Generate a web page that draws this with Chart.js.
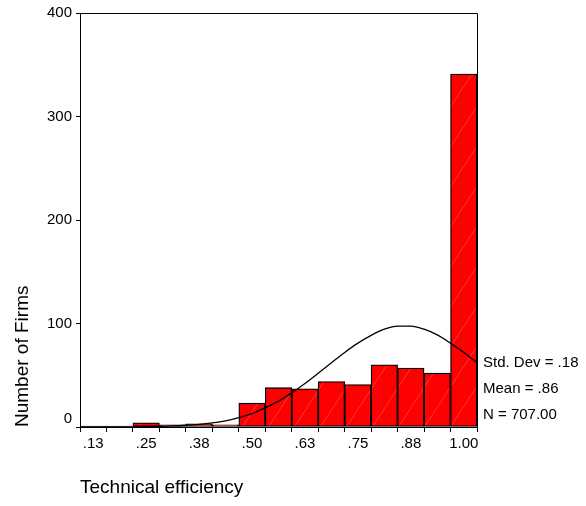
<!DOCTYPE html>
<html>
<head>
<meta charset="utf-8">
<script src="https://cdn.jsdelivr.net/npm/chart.js@4.4.0/dist/chart.umd.min.js"></script>
<style>
  html, body { margin: 0; padding: 0; background: #fff; }
  #wrap { width: 586px; height: 506px; }
</style>
</head>
<body>
<div id="wrap"><canvas id="histo"></canvas></div>
<script>
// Centros de las clases del histograma (ancho 0.0625)
const binCenters = [0.125, 0.1875, 0.25, 0.3125, 0.375, 0.4375, 0.5, 0.5625,
                    0.625, 0.6875, 0.75, 0.8125, 0.875, 0.9375, 1.0];
// Número de empresas por clase
const firmCounts = [1, 1, 4, 2, 3, 2, 23, 38, 37, 44, 41, 60, 57, 52, 341];

// Etiquetas del eje X (una sí, una no)
const xTickLabels = ['.13', '', '.25', '', '.38', '', '.50', '', '.63', '', '.75', '', '.88', '', '1.00'];
const yTickValues = [0, 100, 200, 300, 400];

// Curva normal dibujada encima
const curveX = [0.09375, 0.125, 0.15625, 0.1875, 0.21875, 0.25, 0.28125, 0.3125, 0.34375, 0.375,
                0.40625, 0.4375, 0.46875, 0.5, 0.53125, 0.5625, 0.59375, 0.625, 0.65625, 0.6875,
                0.71875, 0.75, 0.78125, 0.8125, 0.84375, 0.875, 0.90625, 0.9375, 0.96875, 1.0, 1.03125];
const curveY = [0, 0, 0, 0, 0.1, 0.3, 0.6, 1, 1.7, 2.6,
                4, 6, 9, 13, 18.5, 25, 33, 42, 52, 62,
                72, 81, 88.5, 94.5, 97.5, 97.5, 94.5, 89, 81, 72, 62];

const statLines = ['Std. Dev = .18', 'Mean = .86', 'N = 707.00'];

const FONT = '"Liberation Sans", Arial, sans-serif';

// Patrón rojo con líneas diagonales tenues
function makeBarPattern() {
    const p = document.createElement('canvas');
    p.width = 26;
    p.height = 40;
    const g = p.getContext('2d');
    g.fillStyle = '#ff0000';
    g.fillRect(0, 0, p.width, p.height);
    g.strokeStyle = 'rgba(255,170,170,0.55)';
    g.lineWidth = 0.6;
    g.beginPath();
    g.moveTo(0, p.height);
    g.lineTo(p.width, 0);
    g.stroke();
    return g.createPattern(p, 'repeat');
}

// Marco, etiqueta "0" desplazada y estadísticas
const extrasPlugin = {
    id: 'extras',
    afterDraw(chart) {
        const {ctx, chartArea} = chart;
        const yScale = chart.scales.y;
        ctx.save();
        ctx.strokeStyle = '#000';
        ctx.lineWidth = 1;
        ctx.beginPath();
        ctx.moveTo(chartArea.left, chartArea.top + 0.5);
        ctx.lineTo(chartArea.right + 0.5, chartArea.top + 0.5);
        ctx.lineTo(chartArea.right + 0.5, chartArea.bottom);
        ctx.stroke();

        ctx.fillStyle = '#000';
        ctx.font = '15px ' + FONT;
        ctx.textAlign = 'right';
        ctx.textBaseline = 'middle';
        ctx.fillText('0', chartArea.left - 8, yScale.getPixelForValue(0) - 8);

        ctx.textAlign = 'left';
        statLines.forEach((line, i) => {
            ctx.fillText(line, chartArea.right + 6, chartArea.bottom - 64 + i * 26);
        });
        ctx.restore();
    }
};

const ctx = document.getElementById('histo').getContext('2d');
const histo = new Chart(ctx, {
    type: 'bar',
    data: {
        datasets: [
            {
                type: 'line',
                data: curveX.map((x, i) => ({x, y: curveY[i]})),
                borderColor: '#000',
                borderWidth: 1.3,
                pointRadius: 0,
                fill: false,
                cubicInterpolationMode: 'monotone',
                order: 0
            },
            {
                type: 'bar',
                data: binCenters.map((x, i) => ({x, y: firmCounts[i]})),
                backgroundColor: makeBarPattern(),
                borderColor: '#000',
                borderWidth: 1.3,
                borderSkipped: false,
                barPercentage: 1,
                categoryPercentage: 1,
                order: 1
            }
        ]
    },
    options: {
        responsive: true,
        maintainAspectRatio: false,
        animation: false,
        layout: {padding: {left: 0, top: 11, right: 109, bottom: 0}},
        plugins: {legend: {display: false}, tooltip: {enabled: false}},
        scales: {
            x: {
                type: 'linear',
                min: 0.09375,
                max: 1.03125,
                offset: false,
                afterBuildTicks: scale => {
                    scale.ticks = binCenters.map(v => ({value: v}));
                },
                afterFit: scale => { scale.height = 79; },
                grid: {drawOnChartArea: false, tickLength: 5, tickColor: '#000'},
                border: {display: true, color: '#000', width: 1},
                ticks: {
                    autoSkip: false,
                    maxRotation: 0,
                    padding: 3,
                    color: '#000',
                    font: {family: FONT, size: 15},
                    callback: (value, index) => xTickLabels[index]
                },
                title: {
                    display: true,
                    text: 'Technical efficiency',
                    align: 'start',
                    color: '#000',
                    font: {family: FONT, size: 19},
                    padding: {top: 0, bottom: 7}
                }
            },
            y: {
                min: 0,
                max: 400,
                afterBuildTicks: scale => {
                    scale.ticks = yTickValues.map(v => ({value: v}));
                },
                afterFit: scale => { scale.width = 80; },
                grid: {drawOnChartArea: false, tickLength: 4, tickColor: '#000'},
                border: {display: true, color: '#000', width: 1},
                ticks: {
                    padding: 4,
                    color: '#000',
                    font: {family: FONT, size: 15},
                    callback: value => (value === 0 ? '' : String(value))
                },
                title: {
                    display: true,
                    text: 'Number of Firms',
                    align: 'start',
                    color: '#000',
                    font: {family: FONT, size: 19},
                    padding: {top: 11, bottom: 0}
                }
            }
        }
    },
    plugins: [extrasPlugin]
});
</script>
</body>
</html>
